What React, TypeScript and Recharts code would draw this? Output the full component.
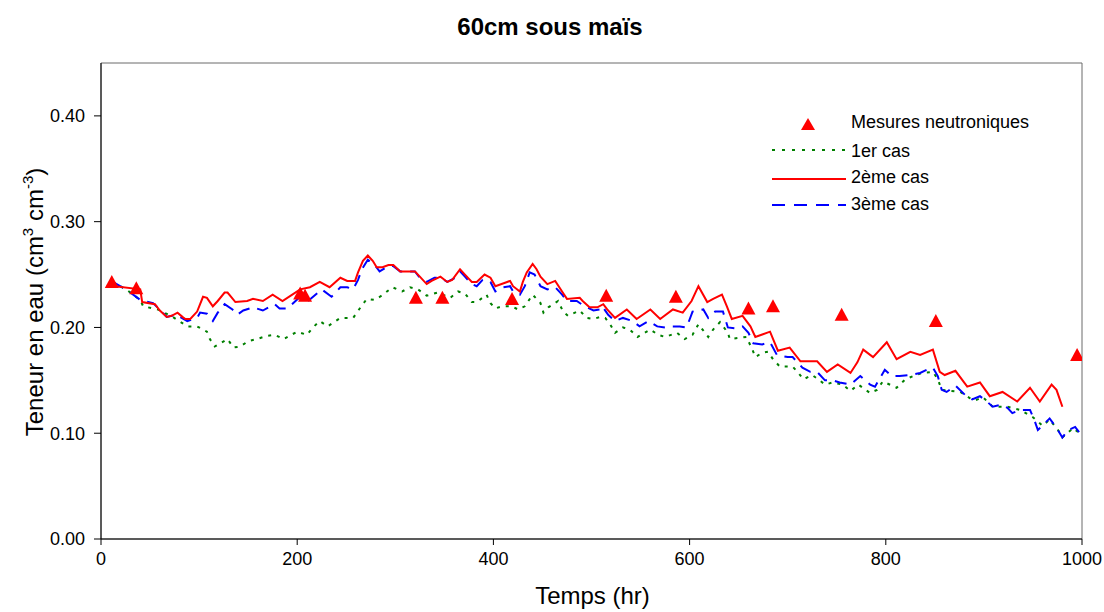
import React from "react";
import {
  ComposedChart,
  Line,
  Scatter,
  XAxis,
  YAxis,
  ReferenceArea,
} from "recharts";

const chartTitle = "60cm sous maïs";
const xTicks = [0, 200, 400, 600, 800, 1000];
const yTicks = [0, 0.1, 0.2, 0.3, 0.4];

// Mesures neutroniques [hr, teneur]
const mesures: [number, number][] = [
  [11, 0.243], [36, 0.237], [203, 0.232], [208, 0.23], [321, 0.228], [348, 0.228],
  [419, 0.227], [515, 0.23], [586, 0.229], [660, 0.218], [685, 0.22], [755, 0.212],
  [851, 0.206], [995, 0.174],
];

// 1er cas
const cas1: [number, number][] = [
  [12, 0.243], [27, 0.235], [40, 0.226], [43, 0.22], [58, 0.217], [73, 0.21], [88, 0.201],
  [98, 0.201], [108, 0.196], [111, 0.189], [116, 0.182], [129, 0.189], [135, 0.181],
  [142, 0.182], [150, 0.187], [159, 0.189], [169, 0.192], [177, 0.193], [186, 0.189],
  [200, 0.196], [210, 0.193], [216, 0.2], [223, 0.206], [231, 0.201], [244, 0.209],
  [257, 0.209], [263, 0.217], [271, 0.227], [279, 0.226], [286, 0.23], [297, 0.238],
  [307, 0.234], [315, 0.238], [323, 0.236], [332, 0.23], [343, 0.233], [356, 0.228],
  [364, 0.234], [371, 0.232], [378, 0.224], [383, 0.224], [393, 0.231], [397, 0.223],
  [402, 0.218], [409, 0.22], [419, 0.22], [425, 0.217], [432, 0.22], [440, 0.231],
  [448, 0.223], [451, 0.214], [456, 0.219], [466, 0.225], [471, 0.215], [476, 0.211],
  [488, 0.216], [495, 0.209], [502, 0.208], [509, 0.21], [514, 0.209], [519, 0.203],
  [524, 0.195], [532, 0.2], [539, 0.198], [547, 0.191], [560, 0.198], [568, 0.193],
  [575, 0.191], [587, 0.195], [595, 0.189], [603, 0.193], [609, 0.203], [619, 0.191],
  [624, 0.198], [631, 0.205], [639, 0.195], [641, 0.189], [649, 0.19], [658, 0.191],
  [664, 0.179], [667, 0.172], [674, 0.176], [680, 0.177], [685, 0.17], [692, 0.163],
  [705, 0.163], [710, 0.158], [716, 0.151], [725, 0.155], [731, 0.151], [738, 0.146],
  [746, 0.148], [756, 0.146], [764, 0.14], [772, 0.146], [784, 0.138], [791, 0.141],
  [797, 0.149], [811, 0.143], [820, 0.151], [828, 0.154], [837, 0.157], [848, 0.158],
  [853, 0.151], [857, 0.141], [876, 0.139], [886, 0.133], [891, 0.131], [899, 0.134],
  [909, 0.125], [924, 0.125], [937, 0.122], [950, 0.115], [960, 0.107], [967, 0.113],
  [978, 0.1], [980, 0.096], [991, 0.105], [996, 0.101],
];

// 2ème cas
const cas2: [number, number][] = [
  [6, 0.24], [40, 0.236], [42, 0.224], [55, 0.222], [60, 0.216], [67, 0.21], [72, 0.211],
  [78, 0.214], [83, 0.21], [86, 0.208], [91, 0.208], [98, 0.215], [104, 0.229], [108, 0.228],
  [114, 0.22], [119, 0.225], [126, 0.233], [129, 0.233], [137, 0.224], [149, 0.225],
  [155, 0.227], [165, 0.225], [175, 0.231], [185, 0.225], [195, 0.231], [203, 0.236],
  [213, 0.238], [223, 0.243], [233, 0.238], [244, 0.247], [251, 0.244], [259, 0.244],
  [262, 0.252], [267, 0.263], [272, 0.268], [277, 0.263], [281, 0.257], [287, 0.257],
  [293, 0.259], [298, 0.259], [305, 0.253], [310, 0.253], [320, 0.253], [325, 0.248],
  [332, 0.241], [337, 0.244], [346, 0.248], [353, 0.243], [358, 0.245], [366, 0.255],
  [371, 0.25], [378, 0.243], [383, 0.243], [391, 0.25], [397, 0.247], [402, 0.239],
  [414, 0.243], [417, 0.244], [420, 0.239], [427, 0.234], [430, 0.243], [434, 0.252],
  [440, 0.26], [444, 0.255], [448, 0.248], [455, 0.241], [463, 0.244], [470, 0.234],
  [475, 0.227], [488, 0.228], [491, 0.225], [498, 0.219], [506, 0.219], [512, 0.222],
  [516, 0.217], [524, 0.209], [536, 0.217], [546, 0.208], [560, 0.217], [570, 0.208],
  [583, 0.217], [593, 0.214], [602, 0.225], [609, 0.239], [618, 0.224], [624, 0.227],
  [633, 0.231], [638, 0.22], [643, 0.208], [654, 0.211], [662, 0.201], [667, 0.191],
  [682, 0.196], [690, 0.178], [702, 0.181], [713, 0.168], [721, 0.168], [730, 0.168],
  [740, 0.158], [751, 0.165], [764, 0.157], [771, 0.167], [777, 0.179], [787, 0.172],
  [801, 0.186], [811, 0.17], [825, 0.177], [835, 0.174], [848, 0.179], [855, 0.158],
  [860, 0.155], [871, 0.159], [883, 0.144], [896, 0.148], [906, 0.135], [919, 0.139],
  [934, 0.13], [947, 0.143], [957, 0.13], [969, 0.146], [974, 0.141], [980, 0.125],
];

// 3ème cas
const cas3: [number, number][] = [
  [12, 0.243], [27, 0.235], [40, 0.226], [53, 0.223], [60, 0.217], [67, 0.21], [77, 0.212],
  [88, 0.206], [98, 0.209], [101, 0.214], [108, 0.213], [114, 0.206], [119, 0.214],
  [126, 0.222], [134, 0.217], [139, 0.212], [145, 0.216], [155, 0.219], [165, 0.216],
  [177, 0.222], [182, 0.218], [190, 0.218], [203, 0.229], [211, 0.225], [225, 0.236],
  [235, 0.229], [244, 0.238], [251, 0.238], [257, 0.236], [262, 0.245], [266, 0.255],
  [272, 0.264], [279, 0.259], [284, 0.253], [293, 0.258], [298, 0.258], [305, 0.253],
  [320, 0.253], [325, 0.247], [332, 0.243], [340, 0.247], [346, 0.247], [353, 0.243],
  [361, 0.247], [366, 0.253], [371, 0.248], [378, 0.241], [383, 0.239], [389, 0.245],
  [397, 0.243], [402, 0.234], [410, 0.238], [417, 0.239], [420, 0.234], [427, 0.231],
  [432, 0.239], [437, 0.252], [442, 0.25], [448, 0.239], [455, 0.236], [463, 0.238],
  [470, 0.231], [475, 0.225], [485, 0.225], [493, 0.22], [502, 0.216], [509, 0.217],
  [511, 0.22], [517, 0.212], [524, 0.206], [532, 0.209], [542, 0.206], [549, 0.201],
  [558, 0.206], [567, 0.201], [575, 0.2], [582, 0.201], [590, 0.201], [597, 0.2],
  [603, 0.215], [614, 0.217], [619, 0.209], [626, 0.215], [634, 0.215], [639, 0.2],
  [648, 0.199], [654, 0.201], [660, 0.195], [665, 0.185], [674, 0.184], [682, 0.186],
  [689, 0.174], [700, 0.172], [705, 0.172], [715, 0.162], [723, 0.158], [730, 0.158],
  [738, 0.15], [746, 0.15], [753, 0.148], [764, 0.146], [774, 0.154], [784, 0.146],
  [789, 0.144], [799, 0.16], [806, 0.154], [814, 0.154], [825, 0.155], [835, 0.157],
  [842, 0.16], [848, 0.162], [853, 0.154], [857, 0.141], [862, 0.139], [871, 0.145],
  [881, 0.136], [888, 0.132], [896, 0.135], [903, 0.13], [909, 0.125], [918, 0.127],
  [924, 0.124], [929, 0.119], [937, 0.122], [947, 0.122], [952, 0.111], [955, 0.103],
  [967, 0.114], [974, 0.105], [980, 0.096], [986, 0.103], [993, 0.106], [997, 0.101],
];

const legendLabels = ["Mesures neutroniques", "1er cas", "2ème cas", "3ème cas"];

const toRows = (arr: [number, number][]) => arr.map(([x, y]) => ({ x, y }));

const FONT = "'Liberation Sans', Arial, sans-serif";
const RED = "#ff0000";
const GREEN = "#008000";
const BLUE = "#0000ff";

const Triangle = (props: any) => {
  const { cx, cy } = props;
  if (cx == null || cy == null) return null;
  return (
    <polygon
      points={`${cx},${cy - 7} ${cx - 7},${cy + 6} ${cx + 7},${cy + 6}`}
      fill={RED}
    />
  );
};

const LegendBox = () => (
  <svg
    width={320}
    height={120}
    style={{ position: "absolute", left: 770, top: 110, overflow: "visible" }}
  >
    <polygon points="38,8 31,20 45,20" fill={RED} />
    <text x={81} y={18} fontFamily={FONT} fontSize={18} fill="#000">{legendLabels[0]}</text>
    <line x1={2} y1={40} x2={76} y2={40} stroke={GREEN} strokeWidth={2} strokeDasharray="3 7" />
    <text x={81} y={47} fontFamily={FONT} fontSize={18} fill="#000">{legendLabels[1]}</text>
    <line x1={2} y1={69} x2={76} y2={69} stroke={RED} strokeWidth={2} />
    <text x={81} y={73} fontFamily={FONT} fontSize={18} fill="#000">{legendLabels[2]}</text>
    <line x1={2} y1={95} x2={76} y2={95} stroke={BLUE} strokeWidth={2} strokeDasharray="13 9" />
    <text x={81} y={100} fontFamily={FONT} fontSize={18} fill="#000">{legendLabels[3]}</text>
  </svg>
);

const YLabel = (props: any) => {
  const vb = props.viewBox || { x: 0, y: 0, width: 0, height: 0 };
  const cx = 43;
  const cy = vb.y + vb.height / 2 + 1;
  return (
    <text
      x={cx}
      y={cy}
      transform={`rotate(-90 ${cx} ${cy})`}
      textAnchor="middle"
      fontFamily={FONT}
      fontSize={24}
      fill="#000"
    >
      Teneur en eau (cm
      <tspan dy={-10} fontSize={15}>3</tspan>
      <tspan dy={10}> cm</tspan>
      <tspan dy={-10} fontSize={15}>-3</tspan>
      <tspan dy={10}>)</tspan>
    </text>
  );
};

const XLabel = (props: any) => {
  const vb = props.viewBox || { x: 0, y: 0, width: 0, height: 0 };
  return (
    <text
      x={vb.x + vb.width / 2 + 1}
      y={604}
      textAnchor="middle"
      fontFamily={FONT}
      fontSize={24}
      fill="#000"
    >
      Temps (hr)
    </text>
  );
};

export default function App() {
  return (
    <div style={{ position: "fixed", left: 0, top: 0, width: 1104, height: 612, background: "#fff" }}>
      <svg width={1104} height={50} style={{ position: "absolute", left: 0, top: 0 }}>
        <text
          x={550}
          y={35}
          textAnchor="middle"
          fontFamily={FONT}
          fontWeight="bold"
          fontSize={24}
          fill="#000"
        >
          {chartTitle}
        </text>
      </svg>
      <ComposedChart
        width={1104}
        height={612}
        margin={{ top: 63, right: 22, bottom: 0, left: 41 }}
        style={{ position: "absolute", left: 0, top: 0 }}
      >
        <XAxis
          type="number"
          dataKey="x"
          domain={[0, 1000]}
          ticks={xTicks}
          allowDataOverflow
          height={73}
          tick={{ fill: "#000", fontSize: 18, fontFamily: FONT }}
          tickLine={{ stroke: "#000" }}
          axisLine={{ stroke: "#000" }}
          tickSize={6}
          tickMargin={7}
          label={<XLabel />}
        />
        <YAxis
          type="number"
          dataKey="y"
          domain={[0, 0.45]}
          ticks={yTicks}
          allowDataOverflow
          width={60}
          tickFormatter={(v: number) => v.toFixed(2)}
          tick={{ fill: "#000", fontSize: 18, fontFamily: FONT }}
          tickLine={{ stroke: "#000" }}
          axisLine={{ stroke: "#000" }}
          tickSize={7}
          tickMargin={9}
          label={<YLabel />}
        />
        <ReferenceArea
          x1={0}
          x2={1000}
          y1={0}
          y2={0.45}
          fill="none"
          stroke="#6b6b6b"
          strokeWidth={1}
          ifOverflow="visible"
        />
        <Line
          data={toRows(cas1)}
          dataKey="y"
          type="linear"
          stroke={GREEN}
          strokeWidth={2}
          strokeDasharray="3 6"
          dot={false}
          isAnimationActive={false}
        />
        <Line
          data={toRows(cas3)}
          dataKey="y"
          type="linear"
          stroke={BLUE}
          strokeWidth={2}
          strokeDasharray="12 8"
          dot={false}
          isAnimationActive={false}
        />
        <Line
          data={toRows(cas2)}
          dataKey="y"
          type="linear"
          stroke={RED}
          strokeWidth={2}
          dot={false}
          isAnimationActive={false}
        />
        <Scatter
          data={toRows(mesures)}
          dataKey="y"
          fill={RED}
          shape={<Triangle />}
          isAnimationActive={false}
        />
      </ComposedChart>
      <LegendBox />
    </div>
  );
}
